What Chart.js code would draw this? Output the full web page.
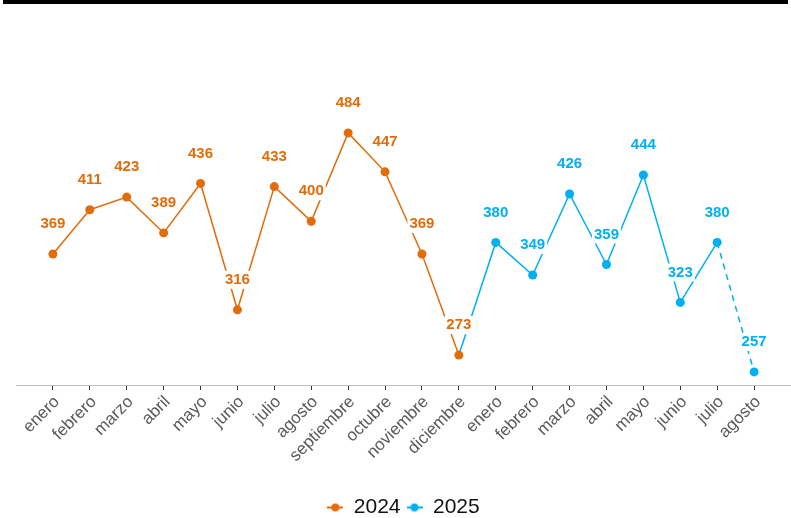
<!DOCTYPE html>
<html>
<head>
<meta charset="utf-8">
<script src="https://cdn.jsdelivr.net/npm/chart.js@4.4.1/dist/chart.umd.min.js"></script>
<style>
  html, body { margin: 0; padding: 0; background: #fff; }
  #wrap { position: relative; width: 791px; height: 518px; }
  #bar { position: absolute; left: 3px; right: 3px; top: 0; height: 4px; background: #000; }
  canvas { display: block; }
</style>
</head>
<body>
<div id="wrap">
  <canvas id="c" width="791" height="518"></canvas>
  <div id="bar"></div>
</div>
<script>
const months = ['enero','febrero','marzo','abril','mayo','junio','julio','agosto','septiembre','octubre','noviembre','diciembre'];
const months2025 = ['enero','febrero','marzo','abril','mayo','junio','julio','agosto'];
const values2024 = [369, 411, 423, 389, 436, 316, 433, 400, 484, 447, 369, 273];
const values2025 = [380, 349, 426, 359, 444, 323, 380, 257];
const seriesNames = ['2024', '2025'];
const colors = ['#E36C0A', '#00B0F0'];

// categories (with one empty slot on each side for spacing)
const categories = [''].concat(months, months2025, ['']);
const n = categories.length;

const data2024 = [null].concat(values2024, months2025.map(() => null), [null]);
const connectIdx = values2024.length; // index of diciembre in padded array
const data2025 = [null].concat(months.map(() => null), values2025, [null]);
data2025[connectIdx] = values2024[values2024.length - 1];
const lastIdx2025 = values2024.length + values2025.length; // last real index

function legendIcon(color) {
  const cv = document.createElement('canvas');
  cv.width = 16; cv.height = 10;
  const g = cv.getContext('2d');
  g.strokeStyle = color; g.lineWidth = 2;
  g.beginPath(); g.moveTo(0, 5); g.lineTo(16, 5); g.stroke();
  g.fillStyle = color;
  g.beginPath(); g.arc(8, 5, 4, 0, Math.PI * 2); g.fill();
  return cv;
}
const icons = colors.map(legendIcon);

const labelPlugin = {
  id: 'valueLabels',
  afterDatasetsDraw(chart) {
    const ctx = chart.ctx;
    ctx.save();
    ctx.font = 'bold 15px "Liberation Sans", Arial, sans-serif';
    ctx.textAlign = 'center';
    ctx.textBaseline = 'middle';
    chart.data.datasets.forEach((ds, di) => {
      const meta = chart.getDatasetMeta(di);
      meta.data.forEach((pt, i) => {
        const v = ds.data[i];
        if (v === null || v === undefined) return;
        if (di === 1 && i === connectIdx) return;
        const x = pt.x, y = pt.y - 30;
        const txt = String(v);
        const w = ctx.measureText(txt).width;
        ctx.fillStyle = '#fff';
        ctx.fillRect(x - w / 2 - 2, y - 9, w + 4, 18);
        ctx.fillStyle = colors[di];
        ctx.fillText(txt, x, y);
      });
    });
    ctx.restore();
  }
};

new Chart(document.getElementById('c'), {
  type: 'line',
  data: {
    labels: categories,
    datasets: [
      {
        label: seriesNames[0],
        data: data2024,
        borderColor: colors[0],
        backgroundColor: colors[0],
        borderWidth: 1.5,
        pointRadius: 4.5,
        pointHoverRadius: 4.5,
        pointBorderWidth: 0,
        tension: 0,
        spanGaps: false
      },
      {
        label: seriesNames[1],
        data: data2025,
        borderColor: colors[1],
        backgroundColor: colors[1],
        borderWidth: 1.5,
        pointRadius: (c) => (c.dataIndex === connectIdx ? 0 : 4.5),
        pointHoverRadius: 4.5,
        pointBorderWidth: 0,
        tension: 0,
        spanGaps: false,
        segment: {
          borderDash: (c) => (c.p1DataIndex === lastIdx2025 ? [6, 5] : undefined)
        }
      }
    ]
  },
  options: {
    responsive: false,
    animation: false,
    events: [],
    layout: { autoPadding: false, padding: { left: 16, right: 0, top: 40, bottom: -10 } },
    scales: {
      x: {
        type: 'category',
        offset: false,
        border: { display: true, color: '#BFBFBF', width: 1 },
        grid: { drawOnChartArea: false, drawTicks: true, tickLength: 5, tickColor: (c) => (c.index === 0 || c.index === n - 1 ? 'rgba(0,0,0,0)' : '#333') },
        ticks: {
          autoSkip: false,
          maxRotation: 45,
          minRotation: 45,
          padding: 2,
          labelOffset: 4,
          color: '#595959',
          font: { family: '"Liberation Sans", Arial, sans-serif', size: 17 },
          callback: function (val, idx) { return categories[idx]; }
        },
        afterFit: (s) => { s.height = 106; s.paddingLeft = 0; s.paddingRight = 0; }
      },
      y: {
        display: false,
        min: 244.6,
        max: 572.2
      }
    },
    plugins: {
      tooltip: { enabled: false },
      legend: {
        position: 'bottom',
        labels: {
          usePointStyle: true,
          pointStyleWidth: 16,
          boxHeight: 10,
          color: '#111',
          padding: 6,
          font: { family: '"Liberation Sans", Arial, sans-serif', size: 21 },
          generateLabels: (chart) => {
            const items = Chart.defaults.plugins.legend.labels.generateLabels(chart);
            items.forEach((it, i) => { it.pointStyle = icons[i]; });
            return items;
          }
        }
      }
    }
  },
  plugins: [labelPlugin]
});
</script>
</body>
</html>
